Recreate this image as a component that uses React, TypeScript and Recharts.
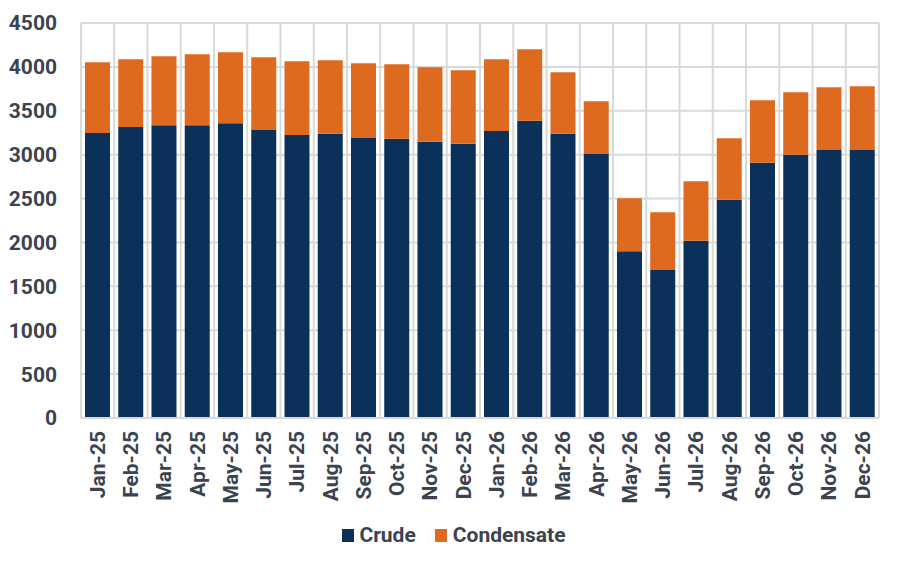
import React from 'react';
import { BarChart, Bar, XAxis, YAxis, CartesianGrid, Legend } from 'recharts';

const months = ['Jan-25','Feb-25','Mar-25','Apr-25','May-25','Jun-25','Jul-25','Aug-25','Sep-25','Oct-25','Nov-25','Dec-25','Jan-26','Feb-26','Mar-26','Apr-26','May-26','Jun-26','Jul-26','Aug-26','Sep-26','Oct-26','Nov-26','Dec-26'];
const crude = [3248,3316,3336,3336,3358,3282,3225,3237,3191,3180,3146,3123,3271,3385,3237,3009,1901,1685,2018,2485,2907,2998,3054,3054];
const condensate = [805,771,785,808,809,828,839,839,850,850,850,839,816,816,702,600,603,660,680,703,713,713,714,726];
const yTicks = [0,500,1000,1500,2000,2500,3000,3500,4000,4500];

const data = months.map((m, i) => ({ month: m, crude: crude[i], condensate: condensate[i] }));

const TEXT = '#3b4350';
const FONT = 'Roboto, sans-serif';

const XTick = (props: any) => {
  const { x, y, payload } = props;
  return (
    <g transform={`translate(${x},${y})`}>
      <text x={-5} y={0} dy="0.35em" transform="rotate(-90)" textAnchor="end"
        fontFamily={FONT} fontWeight={700} fontSize={21} fill={TEXT}>{payload.value}</text>
    </g>
  );
};

const LegendContent = () => (
  <div style={{ display: 'flex', justifyContent: 'center', alignItems: 'center', paddingLeft: 6, fontFamily: FONT, fontWeight: 700, fontSize: 21, color: TEXT }}>
    <span style={{ display: 'inline-block', width: 12, height: 13, background: '#0b3059', marginRight: 5 }} />
    <span style={{ marginRight: 19 }}>Crude</span>
    <span style={{ display: 'inline-block', width: 12, height: 13, background: '#de6a1f', marginRight: 6 }} />
    <span>Condensate</span>
  </div>
);

const vGen = ({ offset }: any) => {
  const n = months.length;
  return Array.from({ length: n + 1 }, (_, i) => offset.left + (i * offset.width) / n);
};

export default function App() {
  return (
    <div style={{ position: 'absolute', left: 0, top: 0 }}>
      <BarChart width={902} height={567} data={data} barCategoryGap="12%"
        margin={{ top: 23, right: 23, left: 0, bottom: 59 }}>
        <CartesianGrid stroke="#d9d9d9" strokeWidth={2} vertical={true} verticalCoordinatesGenerator={vGen} />
        <XAxis dataKey="month" tick={<XTick />} tickLine={false} interval={0} height={90}
          axisLine={{ stroke: '#d9d9d9', strokeWidth: 2 }} />
        <YAxis domain={[0, 4500]} ticks={yTicks} width={81} axisLine={false} tickLine={false}
          tick={{ fontFamily: FONT, fontWeight: 700, fontSize: 21, fill: TEXT }} tickMargin={18} />
        <Legend verticalAlign="middle" align="center" layout="horizontal" content={<LegendContent />}
          wrapperStyle={{ top: 523, left: 0, width: 902 }} />
        <Bar dataKey="crude" stackId="a" fill="#0b3059" isAnimationActive={false} />
        <Bar dataKey="condensate" stackId="a" fill="#de6a1f" isAnimationActive={false} />
      </BarChart>
    </div>
  );
}
